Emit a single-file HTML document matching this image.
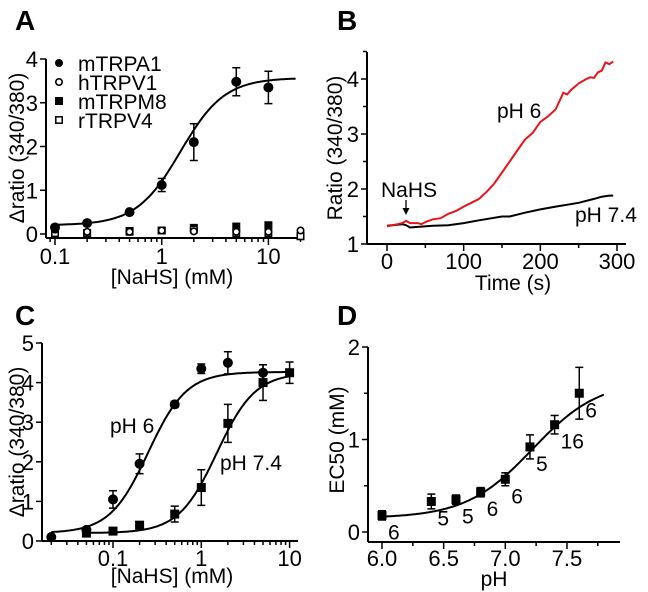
<!DOCTYPE html>
<html><head><meta charset="utf-8"><style>
body{margin:0;background:#fff}
svg{display:block;font-family:"Liberation Sans",Arial,sans-serif}
</style></head><body>
<svg id="fig" width="648" height="592" viewBox="0 0 648 592" xmlns="http://www.w3.org/2000/svg"></svg>
<script>
// ---- Panel A data ----
const aConc=[0.1,0.2,0.5,1,2,5,10];
const aTRPA1=[0.15,0.25,0.5,1.12,2.1,3.48,3.35];
const aTRPA1Err=[0.03,0.03,0.04,0.15,0.42,0.32,0.37];
const aConc2=[0.1,0.2,0.5,1,2,5,10,20];
const aTRPV1=[0.1,0.05,0.05,0.08,0.06,0.05,0.05,0.08];
const aTRPM8=[0.05,0.02,0.07,0.08,0.14,0.17,0.2,-0.05];
const aTRPV4=[0.02,0.02,0.05,0.08,0.1,0.02,0.02,-0.05];
const aFit=[0.2,3.57,1.5,2.1]; // bottom, top, EC50, hill
const aYTicks=[0,1,2,3,4];
const aXTicks=[0.1,1,10];
const aLegend=["mTRPA1","hTRPV1","mTRPM8","rTRPV4"];
// ---- Panel B data ----
const bRedT=[0,10,20,25,30,40,45,50,60,70,80,90,100,110,120,130,140,150,160,170,180,190,200,210,220,230,235,240,250,260,265,270,275,280,285,290,295];
const bRedV=[1.32,1.35,1.38,1.42,1.38,1.38,1.36,1.4,1.45,1.47,1.55,1.6,1.68,1.75,1.82,1.95,2.1,2.3,2.5,2.7,2.9,3.02,3.22,3.32,3.45,3.75,3.72,3.8,3.92,4.0,4.03,4.02,4.12,4.15,4.3,4.27,4.32];
const bBlkT=[0,20,25,30,40,60,80,100,120,150,160,180,200,220,250,270,280,290,295];
const bBlkV=[1.33,1.36,1.34,1.3,1.31,1.33,1.34,1.38,1.43,1.5,1.5,1.57,1.63,1.68,1.75,1.82,1.86,1.88,1.88];
const bYTicks=[1,2,3,4];
const bXTicks=[0,100,200,300];
// ---- Panel C data ----
const cConc6=[0.02,0.05,0.1,0.2,0.5,1,2,5];
const cPH6=[0.1,0.28,1.05,1.95,3.45,4.35,4.5,4.25];
const cPH6Err=[0.04,0.05,0.22,0.25,0.08,0.12,0.28,0.2];
const cConc74=[0.05,0.1,0.2,0.5,1,2,5,10];
const cPH74=[0.2,0.25,0.4,0.68,1.35,2.97,4.0,4.25];
const cPH74Err=[0.05,0.04,0.06,0.2,0.45,0.48,0.45,0.27];
const cFit6=[0.2,4.27,0.25,2.0];
const cFit74=[0.2,4.25,1.5,2.0];
const cYTicks=[0,1,2,3,4,5];
const cXTicks=[0.1,1,10];
// ---- Panel D data ----
const dPH=[6.0,6.4,6.6,6.8,7.0,7.2,7.4,7.6];
const dEC50=[0.18,0.33,0.35,0.43,0.57,0.92,1.16,1.5];
const dErr=[0.05,0.08,0.05,0.05,0.07,0.13,0.1,0.28];
const dN=["6","5","5","6","6","5","16","6"];
const dFit=[0.15,1.64,7.22,0.27];
const dYTicks=[0,1,2];
const dXTicks=[6.0,6.5,7.0,7.5];

const NS="http://www.w3.org/2000/svg";
const svg=document.getElementById('fig');
function mk(tag,attrs,parent,text){const e=document.createElementNS(NS,tag);for(const k in attrs)e.setAttribute(k,attrs[k]);if(text!==undefined)e.textContent=text;(parent||svg).appendChild(e);return e;}
function hill(p,x){return p[0]+(p[1]-p[0])/(1+Math.pow(p[2]/x,p[3]));}
function marker(g,type,x,y,s){
  if(type==='fc'){return mk('circle',{cx:x,cy:y,r:s,fill:'#000'},g);}
  if(type==='oc'){return mk('circle',{cx:x,cy:y,r:s-0.8,fill:'#fff',stroke:'#000','stroke-width':1.6},g);}
  if(type==='fs'){return mk('rect',{x:x-s,y:y-s,width:2*s,height:2*s,fill:'#000'},g);}
  return mk('rect',{x:x-s+0.8,y:y-s+0.8,width:2*s-1.6,height:2*s-1.6,fill:'#fff',stroke:'#000','stroke-width':1.5},g);
}
function errbar(g,x,y1,y2){
  mk('line',{x1:x,y1:y1,x2:x,y2:y2,stroke:'#000','stroke-width':1.5},g);
  mk('line',{x1:x-4,y1:y1,x2:x+4,y2:y1,stroke:'#000','stroke-width':1.5},g);
  mk('line',{x1:x-4,y1:y2,x2:x+4,y2:y2,stroke:'#000','stroke-width':1.5},g);
}
function axes(g,x0,y0,x1,yTop){
  mk('line',{x1:x0,y1:yTop,x2:x0,y2:y0,stroke:'#000','stroke-width':2},g);
  mk('line',{x1:x0,y1:y0,x2:x1,y2:y0,stroke:'#000','stroke-width':2},g);
}
function logMinor(g,sx,lo,hi,y0){
  for(let d=Math.floor(Math.log10(lo));d<=Math.ceil(Math.log10(hi));d++)for(let m=1;m<10;m++){
    const v=m*Math.pow(10,d); if(v<lo||v>hi)continue;
    mk('line',{x1:sx(v),y1:y0,x2:sx(v),y2:y0+(m===1?7:4),stroke:'#000','stroke-width':1.5},g);
  }
}
function ytick(g,x0,y,label,fs){
  mk('line',{x1:x0-6,y1:y,x2:x0,y2:y,stroke:'#000','stroke-width':1.5},g);
  mk('text',{x:x0-8,y:y+8,'text-anchor':'end','font-size':fs},g,label);
}
function panelLetter(t,x,y){const e=mk('text',{x:x,y:y,'font-size':28,'font-weight':'bold'},svg,t);}
function ylabel(g,x,y,t){mk('text',{x:x,y:y,'text-anchor':'middle','font-size':21,transform:`rotate(-90 ${x} ${y})`},g,t);}
function curvePath(g,fn,sx,sy,lo,hi,log,color){
  let d='';for(let i=0;i<=200;i++){const v=log?Math.pow(10,Math.log10(lo)+(Math.log10(hi)-Math.log10(lo))*i/200):lo+(hi-lo)*i/200;d+=(i?'L':'M')+sx(v).toFixed(1)+','+sy(fn(v)).toFixed(1);}
  return mk('path',{d:d,fill:'none',stroke:color||'#000','stroke-width':2},g);
}

// ===== Panel A =====
(function(){
  const g=mk('g',{});
  const sx=v=>55+106.7*Math.log10(v/0.1), sy=v=>234-43.75*v;
  axes(g,46,238,300,59);
  logMinor(g,sx,0.09,20,238);
  aXTicks.forEach(v=>mk('text',{x:sx(v),y:264,'text-anchor':'middle','font-size':22},g,String(v)));
  aYTicks.forEach(v=>ytick(g,46,sy(v),String(v),22));
  mk('text',{x:172,y:284,'text-anchor':'middle','font-size':21},g,'[NaHS] (mM)');
  ylabel(g,24,148,'Δratio (340/380)');
  curvePath(g,x=>hill(aFit,x),sx,sy,0.1,18,true);
  aConc.forEach((c,i)=>{errbar(g,sx(c),sy(aTRPA1[i]+aTRPA1Err[i]),sy(aTRPA1[i]-aTRPA1Err[i]));});
  aConc2.forEach((c,i)=>{marker(g,'fs',sx(c),sy(aTRPM8[i]),4);marker(g,'os',sx(c),sy(aTRPV4[i]),4);marker(g,'oc',sx(c),sy(aTRPV1[i]),4);});
  aConc.forEach((c,i)=>{const m=marker(g,'fc',sx(c),sy(aTRPA1[i]),5);});
  const types=['fc','oc','fs','os'];
  aLegend.forEach((t,i)=>{const y=63+19*i;marker(g,types[i],59,y,4);mk('text',{x:78,y:y+8,'font-size':21},g,t);});
})();
panelLetter('A',15,30);

// ===== Panel B =====
(function(){
  const g=mk('g',{});
  const sx=v=>387+0.7667*v, sy=v=>244-55*(v-1);
  axes(g,367,244,626,52);
  [50,150,250].forEach(v=>mk('line',{x1:sx(v),y1:244,x2:sx(v),y2:248,stroke:'#000','stroke-width':1.5},g));
  bXTicks.forEach(v=>{mk('line',{x1:sx(v),y1:244,x2:sx(v),y2:251,stroke:'#000','stroke-width':1.5},g);mk('text',{x:sx(v),y:269,'text-anchor':'middle','font-size':22},g,String(v));});
  [1.5,2.5,3.5,4.5].forEach(v=>mk('line',{x1:363,y1:sy(v),x2:367,y2:sy(v),stroke:'#000','stroke-width':1.5},g));
  bYTicks.forEach(v=>ytick(g,367,sy(v),String(v),22));
  mk('text',{x:513,y:290,'text-anchor':'middle','font-size':21},g,'Time (s)');
  ylabel(g,342,148,'Ratio (340/380)');
  let d='';bBlkT.forEach((t,i)=>d+=(i?'L':'M')+sx(t).toFixed(1)+','+sy(bBlkV[i]).toFixed(1));
  const p1=mk('path',{d:d,fill:'none',stroke:'#000','stroke-width':2},g);
  d='';bRedT.forEach((t,i)=>d+=(i?'L':'M')+sx(t).toFixed(1)+','+sy(bRedV[i]).toFixed(1));
  const p2=mk('path',{d:d,fill:'none',stroke:'#e8141b','stroke-width':2},g);
  mk('text',{x:497,y:118,'font-size':21},g,'pH 6');
  mk('text',{x:575,y:222,'font-size':21},g,'pH 7.4');
  mk('text',{x:381,y:197,'font-size':21},g,'NaHS');
  mk('line',{x1:406,y1:200,x2:406,y2:211,stroke:'#000','stroke-width':1.3},g);
  mk('path',{d:'M402.5,208 L406,215 L409.5,208 Z',fill:'#000'},g);
})();
panelLetter('B',337,30);

// ===== Panel C =====
(function(){
  const g=mk('g',{});
  const sx=v=>113+88.3*Math.log10(v/0.1), sy=v=>541-39.6*v;
  axes(g,42,541,298,343);
  logMinor(g,sx,0.016,11,541);
  cXTicks.forEach(v=>mk('text',{x:sx(v),y:566,'text-anchor':'middle','font-size':22},g,String(v)));
  cYTicks.forEach(v=>ytick(g,42,sy(v),String(v),22));
  mk('text',{x:172,y:583,'text-anchor':'middle','font-size':21},g,'[NaHS] (mM)');
  ylabel(g,24,442,'Δratio (340/380)');
  curvePath(g,x=>hill(cFit6,x),sx,sy,0.02,10.5,true);
  curvePath(g,x=>hill(cFit74,x),sx,sy,0.05,10.5,true);
  cConc6.forEach((c,i)=>{errbar(g,sx(c),sy(cPH6[i]+cPH6Err[i]),sy(cPH6[i]-cPH6Err[i]));const m=marker(g,'fc',sx(c),sy(cPH6[i]),5);});
  cConc74.forEach((c,i)=>{errbar(g,sx(c),sy(cPH74[i]+cPH74Err[i]),sy(cPH74[i]-cPH74Err[i]));const m=marker(g,'fs',sx(c),sy(cPH74[i]),4.5);});
  mk('text',{x:110,y:433,'font-size':21},g,'pH 6');
  mk('text',{x:220,y:470,'font-size':21},g,'pH 7.4');
})();
panelLetter('C',15,325);

// ===== Panel D =====
(function(){
  const g=mk('g',{});
  const sx=v=>382+123.3*(v-6), sy=v=>532-92.5*v;
  axes(g,368,542,620,347);
  [6.25,6.75,7.25,7.75].forEach(v=>mk('line',{x1:sx(v),y1:542,x2:sx(v),y2:546,stroke:'#000','stroke-width':1.5},g));
  dXTicks.forEach(v=>{mk('line',{x1:sx(v),y1:542,x2:sx(v),y2:549,stroke:'#000','stroke-width':1.5},g);mk('text',{x:sx(v),y:566,'text-anchor':'middle','font-size':22},g,v.toFixed(1));});
  [0.5,1.5].forEach(v=>mk('line',{x1:364,y1:sy(v),x2:368,y2:sy(v),stroke:'#000','stroke-width':1.5},g));
  dYTicks.forEach(v=>ytick(g,368,sy(v),String(v),22));
  mk('text',{x:494,y:586,'text-anchor':'middle','font-size':21},g,'pH');
  ylabel(g,344,440,'EC50 (mM)');
  curvePath(g,x=>dFit[0]+(dFit[1]-dFit[0])/(1+Math.exp(-(x-dFit[2])/dFit[3])),sx,sy,6.0,7.8,false);
  dPH.forEach((p,i)=>{errbar(g,sx(p),sy(dEC50[i]+dErr[i]),sy(dEC50[i]-dErr[i]));const m=marker(g,'fs',sx(p),sy(dEC50[i]),4.5);
    mk('text',{x:sx(p)+6,y:sy(dEC50[i])+24,'font-size':21},g,dN[i]);});
})();
panelLetter('D',337,325);
</script>
</body></html>
